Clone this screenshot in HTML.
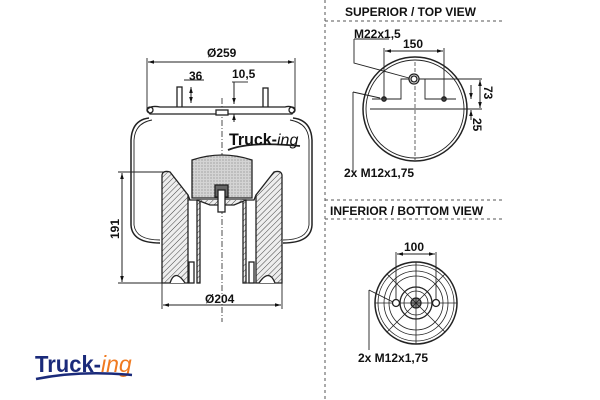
<!DOCTYPE html>
<html><head><meta charset="utf-8"><style>
html,body{margin:0;padding:0;background:#fff;width:600px;height:400px;overflow:hidden}
text{font-family:"Liberation Sans",sans-serif}
</style></head><body>
<svg width="600" height="400" viewBox="0 0 600 400" xmlns="http://www.w3.org/2000/svg">
<defs>
<pattern id="h" width="4" height="4" patternUnits="userSpaceOnUse" patternTransform="rotate(45)">
<rect width="4" height="4" fill="#eee"/><line x1="0" y1="0" x2="0" y2="4" stroke="#444" stroke-width="1"/></pattern>
<pattern id="d" width="3" height="3" patternUnits="userSpaceOnUse"><rect width="3" height="3" fill="#d4d4d4"/><circle cx="1" cy="1" r="0.6" fill="#888"/></pattern>
<marker id="a" viewBox="0 0 10 10" refX="10" refY="5" markerWidth="6" markerHeight="6" orient="auto-start-reverse"><path d="M0,2 L10,5 L0,8z" fill="#111"/></marker>
</defs>
<g stroke="#222" fill="none" stroke-width="1.3">
<line x1="222" y1="98" x2="222" y2="322" stroke-dasharray="6,2,1,2" stroke-width="0.8"/>
<line x1="147" y1="58" x2="147" y2="110" stroke-width="0.9"/>
<line x1="295" y1="58" x2="295" y2="110" stroke-width="0.9"/>
<line x1="148" y1="62" x2="294" y2="62" marker-start="url(#a)" marker-end="url(#a)" stroke-width="1"/>
<line x1="184" y1="80" x2="204" y2="80" stroke-width="0.9"/>
<line x1="191" y1="87" x2="191" y2="103" marker-start="url(#a)" marker-end="url(#a)" stroke-width="1"/>
<line x1="232" y1="82" x2="248" y2="82" stroke-width="0.9"/>
<line x1="234" y1="82" x2="234" y2="104" marker-end="url(#a)" stroke-width="1"/>
<line x1="234" y1="122" x2="234" y2="114" marker-end="url(#a)" stroke-width="1"/>
<rect x="177" y="87" width="5" height="23" fill="#fff"/>
<rect x="263" y="88" width="5" height="22" fill="#fff"/>
<path d="M147,110 Q150,105 160,107 L285,107 Q292,105 295,110 L292,114 L150,114z" fill="#fff"/>
<circle cx="150" cy="110" r="3"/><circle cx="292" cy="110" r="3"/>
<rect x="216" y="110" width="12" height="5" fill="#fff"/>
<path d="M149,118 Q132,120 131,140 L131,225 Q132,243 160,243" stroke-width="1.5"/>
<path d="M152,120 Q135,123 134,140 L134,225 Q136,240 160,240" stroke-width="0.9"/>
<path d="M293,118 Q311,120 312,140 L312,225 Q311,243 283,243" stroke-width="1.5"/>
<path d="M290,120 Q308,123 309,140 L309,225 Q307,240 283,240" stroke-width="0.9"/>
<path d="M162,175 Q163,170 170,172 L188,195 L188,283 L162,283z" fill="url(#h)"/>
<path d="M282,175 Q281,170 274,172 L256,195 L256,283 L282,283z" fill="url(#h)"/>
<path d="M170,283 Q175,268 185,283" fill="#fff"/>
<path d="M259,283 Q269,268 275,283" fill="#fff"/>
<path d="M188,195 L190,200 L254,200 L256,195"/>
<path d="M188,200 L197,200 L197,283 M245,200 L245,283 L256,283" stroke-width="1"/>
<rect x="197" y="200" width="3" height="83" fill="url(#h)"/>
<rect x="243" y="200" width="3" height="83" fill="url(#h)"/>
<path d="M197,200 L210,205 L234,205 L246,200" fill="url(#h)"/>
<path d="M192,198 L192,160 Q222,150 252,160 L252,198z" fill="url(#d)"/>
<rect x="215" y="185" width="13" height="12" fill="#666"/>
<rect x="218" y="190" width="7" height="22" fill="#fff"/>
<rect x="189" y="262" width="5" height="21" fill="#fff"/>
<rect x="249" y="262" width="5" height="21" fill="#fff"/>
<line x1="118" y1="172" x2="165" y2="172" stroke-width="0.9"/>
<line x1="118" y1="283" x2="165" y2="283" stroke-width="0.9"/>
<line x1="122" y1="173" x2="122" y2="282" marker-start="url(#a)" marker-end="url(#a)" stroke-width="1"/>
<line x1="162" y1="283" x2="162" y2="309" stroke-width="0.9"/>
<line x1="282" y1="283" x2="282" y2="309" stroke-width="0.9"/>
<line x1="163" y1="305" x2="281" y2="305" marker-start="url(#a)" marker-end="url(#a)" stroke-width="1"/>
<path d="M228,150 Q250,141 300,146" stroke-width="1.8"/>

<line x1="325" y1="0" x2="325" y2="400" stroke-dasharray="3,3" stroke="#555" stroke-width="1"/>
<line x1="325" y1="21" x2="503" y2="21" stroke-dasharray="3,3" stroke="#555" stroke-width="1"/>
<line x1="325" y1="200" x2="503" y2="200" stroke-dasharray="3,3" stroke="#555" stroke-width="1"/>
<line x1="325" y1="219" x2="503" y2="219" stroke-dasharray="3,3" stroke="#555" stroke-width="1"/>
<circle cx="415" cy="109" r="52" stroke-width="1.5"/>
<circle cx="415" cy="109" r="49" stroke-width="0.9"/>
<line x1="415" y1="62" x2="415" y2="160" stroke-dasharray="4,2" stroke-width="0.7"/>
<path d="M370,109 L460,109 M372,99 L401,99 L401,79 L425,79 L425,99 L456,99" stroke-width="0.9"/>
<circle cx="414" cy="79" r="5" fill="#fff"/><circle cx="414" cy="79" r="3"/>
<circle cx="384" cy="99" r="2.2" fill="#444"/><circle cx="444" cy="99" r="2.2" fill="#444"/>
<line x1="384" y1="48" x2="384" y2="99" stroke-width="0.9"/>
<line x1="444" y1="48" x2="444" y2="99" stroke-width="0.9"/>
<line x1="385" y1="51" x2="443" y2="51" marker-start="url(#a)" marker-end="url(#a)" stroke-width="1"/>
<path d="M354,39 L389,39 M354,39 L354,63 L409,78" stroke-width="0.9"/>
<path d="M353,92 L353,172 M353,92 L380,98" stroke-width="0.9"/>
<line x1="425" y1="79" x2="482" y2="79" stroke-width="0.9"/>
<line x1="457" y1="109" x2="482" y2="109" stroke-width="0.9"/>
<line x1="480" y1="80" x2="480" y2="108" marker-start="url(#a)" marker-end="url(#a)" stroke-width="1"/>
<line x1="471" y1="85" x2="471" y2="99" marker-end="url(#a)" stroke-width="1"/>
<line x1="471" y1="120" x2="471" y2="110" marker-end="url(#a)" stroke-width="1"/>
<circle cx="416" cy="303" r="41" stroke-width="1.5"/>
<circle cx="416" cy="303" r="38" stroke-width="0.8"/>
<circle cx="416" cy="303" r="32" stroke-width="0.8"/>
<circle cx="416" cy="303" r="27" stroke-width="0.8"/>
<circle cx="416" cy="303" r="16" stroke-width="1.3"/>
<circle cx="416" cy="303" r="12" stroke-width="0.8"/>
<circle cx="416" cy="303" r="5" fill="#888"/>
<path d="M416,262 L416,344 M375,303 L457,303 M387,274 L445,332 M445,274 L387,332" stroke-width="0.8"/>
<circle cx="396" cy="303" r="3.5" fill="#fff"/><circle cx="436" cy="303" r="3.5" fill="#fff"/>
<line x1="396" y1="252" x2="396" y2="300" stroke-width="0.9"/>
<line x1="436" y1="252" x2="436" y2="300" stroke-width="0.9"/>
<line x1="397" y1="254" x2="435" y2="254" marker-start="url(#a)" marker-end="url(#a)" stroke-width="1"/>
<path d="M369,290 L369,350 M369,290 L393,302" stroke-width="0.9"/>
</g>
<g fill="#111" font-size="12" font-weight="bold">
<text x="207" y="57">Ø259</text>
<text x="189" y="80">36</text>
<text x="232" y="78">10,5</text>
<text x="205" y="303">Ø204</text>
<text x="119" y="229" transform="rotate(-90 119 229)" text-anchor="middle">191</text>
<text x="229" y="145" font-size="17" textLength="48" lengthAdjust="spacingAndGlyphs">Truck-</text>
<text x="277" y="145" font-style="italic" font-weight="normal" font-size="16">ing</text>
<text x="345" y="16" font-size="12">SUPERIOR / TOP VIEW</text>
<text x="354" y="38">M22x1,5</text>
<text x="403" y="48">150</text>
<text x="484" y="86" transform="rotate(90 484 86)">73</text>
<text x="473" y="118" transform="rotate(90 473 118)">25</text>
<text x="344" y="177">2x M12x1,75</text>
<text x="330" y="215" font-size="12">INFERIOR / BOTTOM VIEW</text>
<text x="404" y="251">100</text>
<text x="358" y="362">2x M12x1,75</text>
</g>
<text x="35" y="372" font-weight="bold" font-size="23" fill="#1a2a7a" textLength="66" lengthAdjust="spacingAndGlyphs">Truck-</text>
<text x="101" y="372" font-style="italic" font-size="23" fill="#f07a20">ing</text>
<path d="M36,379 Q80,370 132,375" stroke="#1a2a7a" stroke-width="2.5" fill="none"/>
</svg>
</body></html>
